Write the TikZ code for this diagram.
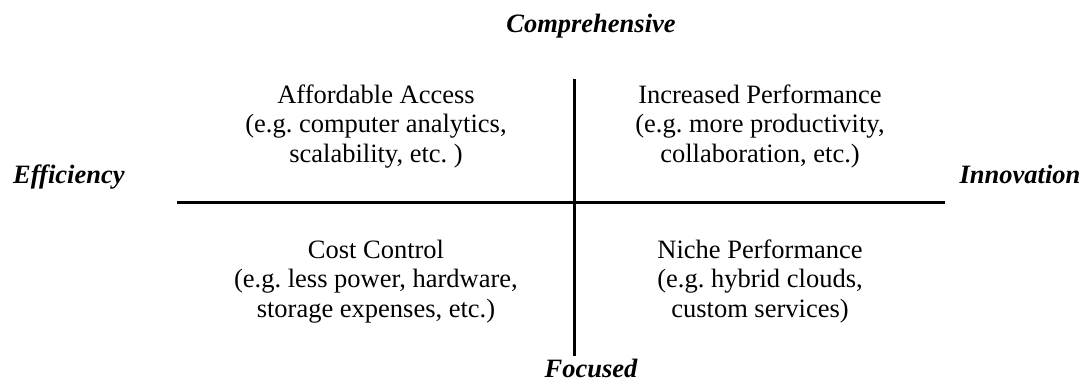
\documentclass[tikz,border=0pt]{standalone}
\usepackage{fontspec}
\setmainfont{Liberation Serif}
\frenchspacing
\begin{document}
\begin{tikzpicture}[x=1pt,y=-1pt,
  quad/.style={align=center,inner sep=0pt,anchor=base,font=\fontsize{26.5}{29.5}\selectfont},
  axislabel/.style={inner sep=0pt,anchor=base,font=\fontsize{26.5}{29.5}\selectfont\bfseries\itshape},
  axisline/.style={line width=3pt}]
\useasboundingbox (0,0) rectangle (1084,384);
\coordinate (hl) at (177,202);
\coordinate (hr) at (945,202);
\coordinate (vt) at (574,79);
\coordinate (vb) at (574,356);
\draw[axisline] (hl) -- (hr);
\draw[axisline] (vt) -- (vb);
\node[axislabel] (comp) at (591,32) {Comprehensive};
\node[axislabel] (foc) at (591,377) {Focused};
\node[axislabel,anchor=base west] (eff) at (13,183) {Efficiency};
\node[axislabel] (inn) at (1020,183) {Innovation};
\node[quad] (aa) at (376,162) {Affordable Access\\(e.g. computer analytics,\\scalability, etc. )};
\node[quad] (ip) at (760,162) {Increased Performance\\(e.g. more productivity,\\collaboration, etc.)};
\node[quad] (cc) at (376,317) {Cost Control\\(e.g. less power, hardware,\\storage expenses, etc.)};
\node[quad] (np) at (760,317) {Niche Performance\\(e.g. hybrid clouds,\\custom services)};
\end{tikzpicture}
\end{document}
